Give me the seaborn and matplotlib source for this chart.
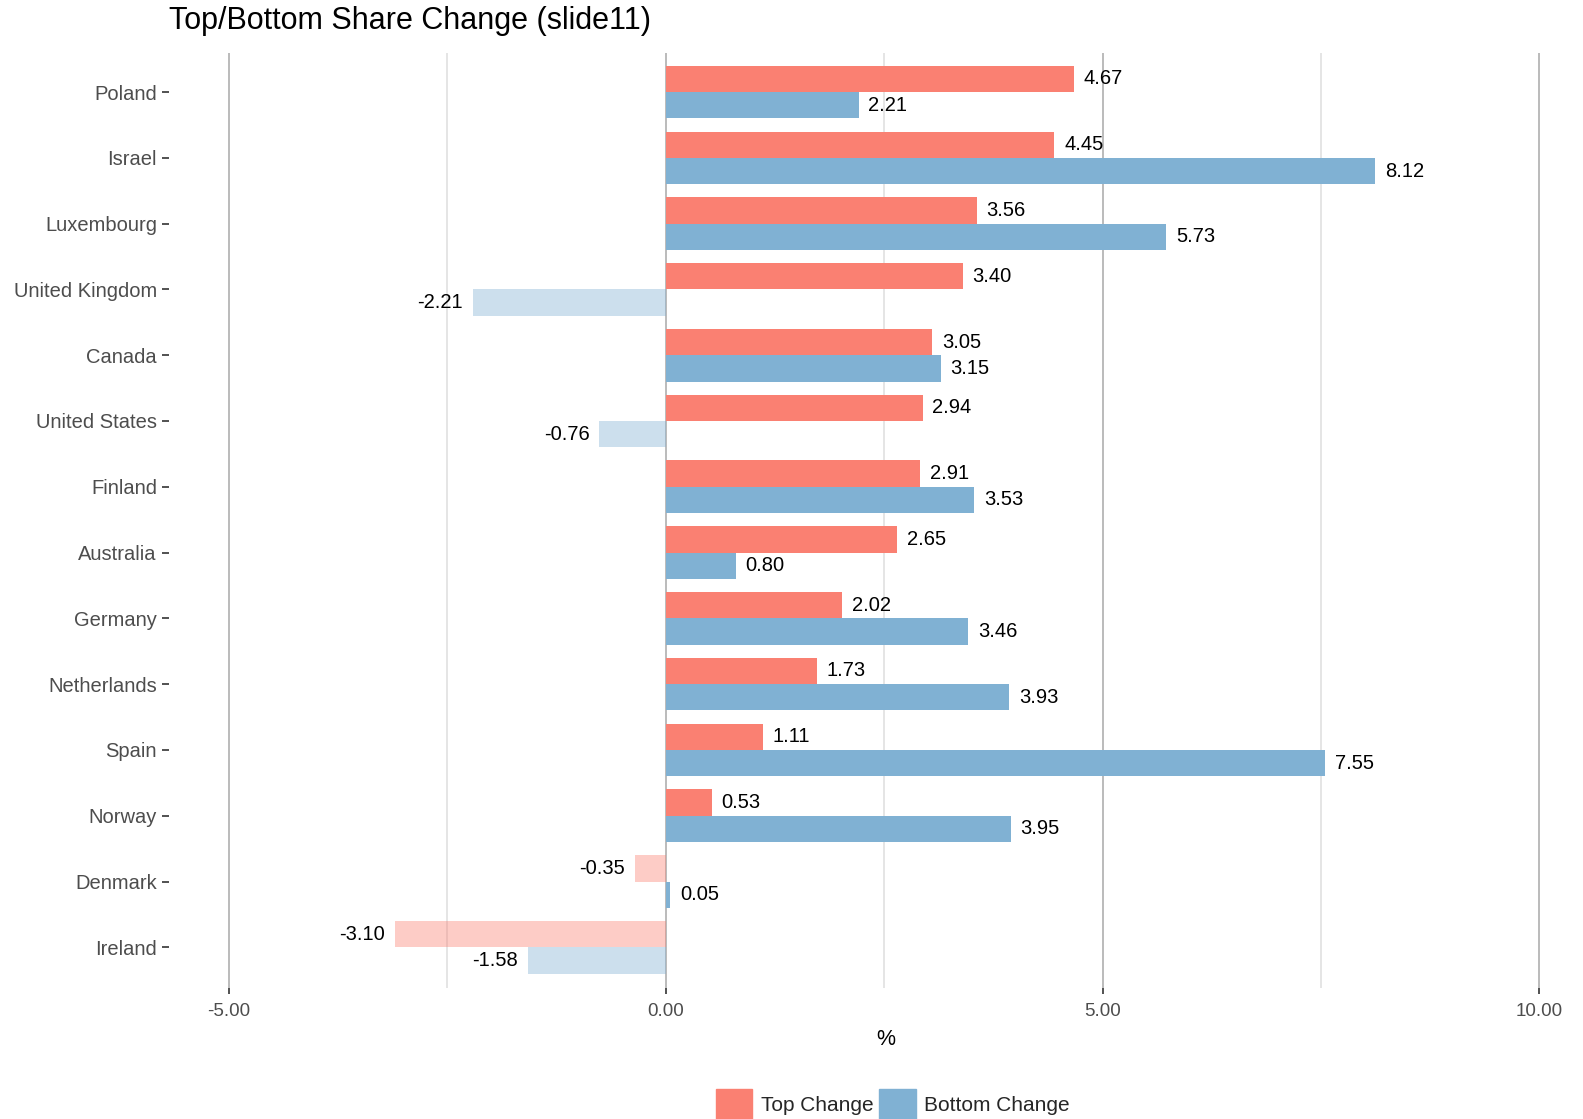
import pandas as pd
import matplotlib
matplotlib.use('Agg')
import matplotlib.pyplot as plt
import matplotlib.patches as mpatches
import seaborn as sns

# Dati del grafico
countries = ['Poland', 'Israel', 'Luxembourg', 'United Kingdom', 'Canada',
             'United States', 'Finland', 'Australia', 'Germany', 'Netherlands',
             'Spain', 'Norway', 'Denmark', 'Ireland']
top_change = [4.67, 4.45, 3.56, 3.40, 3.05, 2.94, 2.91, 2.65, 2.02, 1.73,
              1.11, 0.53, -0.35, -3.10]
bottom_change = [2.21, 8.12, 5.73, -2.21, 3.15, -0.76, 3.53, 0.80, 3.46, 3.93,
                 7.55, 3.95, 0.05, -1.58]
series_names = ['Top Change', 'Bottom Change']
x_ticks = [-5, 0, 5, 10]
x_minor = [-2.5, 2.5, 7.5]

colors = {'Top Change': '#FA8072', 'Bottom Change': '#80B1D3'}

# Tabella in formato lungo per seaborn
df = pd.DataFrame({
    'country': countries * 2,
    'series': ['Top Change'] * len(countries) + ['Bottom Change'] * len(countries),
    'value': top_change + bottom_change,
})

sns.set_theme(style='white')
plt.rcParams['font.family'] = ['Liberation Sans', 'DejaVu Sans']

fig = plt.figure(figsize=(15.83, 11.19), dpi=100)
ax = fig.add_axes([0.107, 0.117, 0.887, 0.836])

sns.barplot(data=df, y='country', x='value', hue='series', order=countries,
            hue_order=series_names, palette=colors, orient='h', width=0.8,
            saturation=1, ax=ax, legend=False, zorder=3, linewidth=0)

# Barre negative sbiadite
for bar in ax.patches:
    if bar.get_width() < 0:
        bar.set_alpha(0.4)

# Etichette dei valori
for cont in ax.containers:
    ax.bar_label(cont, fmt='%.2f', padding=7, fontsize=14.5, color='black')

ax.set_xlim(-5.68, 10.39)
ax.set_ylim(13.62, -0.6)
ax.set_xticks(x_ticks)
ax.set_xticks(x_minor, minor=True)
ax.set_xticklabels([f'{v:.2f}' for v in x_ticks], fontsize=13.5, color='#4D4D4D')
ax.tick_params(axis='x', which='major', length=4, width=1.2, color='#333333',
               bottom=True, pad=7)
ax.tick_params(axis='x', which='minor', length=0)
ax.tick_params(axis='y', length=5, width=1.2, color='#333333', left=True,
               labelsize=14.5, labelcolor='#4D4D4D', pad=4)
ax.grid(axis='x', which='major', color='#A8A8A8', linewidth=1.1)
ax.grid(axis='x', which='minor', color='#DEDEDE', linewidth=1.1)
ax.grid(axis='y', visible=False)
ax.set_axisbelow(True)
for s in ax.spines.values():
    s.set_visible(False)

ax.set_ylabel('')
ax.set_xlabel('%', fontsize=15.5, color='black')
ax.xaxis.set_label_coords(0.51, -0.044)

fig.text(0.107, 0.974, 'Top/Bottom Share Change (slide11)', fontsize=22,
         color='black', ha='left', va='baseline')

handles = [mpatches.Patch(color=colors[n], label=n) for n in series_names]
fig.legend(handles=handles, loc='center', bbox_to_anchor=(0.564, 0.013), ncol=2,
           frameon=False, fontsize=15, handlelength=1.75, handleheight=1.9,
           handletextpad=0.4, columnspacing=0.3, borderaxespad=0)

fig.savefig('out.png', dpi=100)
